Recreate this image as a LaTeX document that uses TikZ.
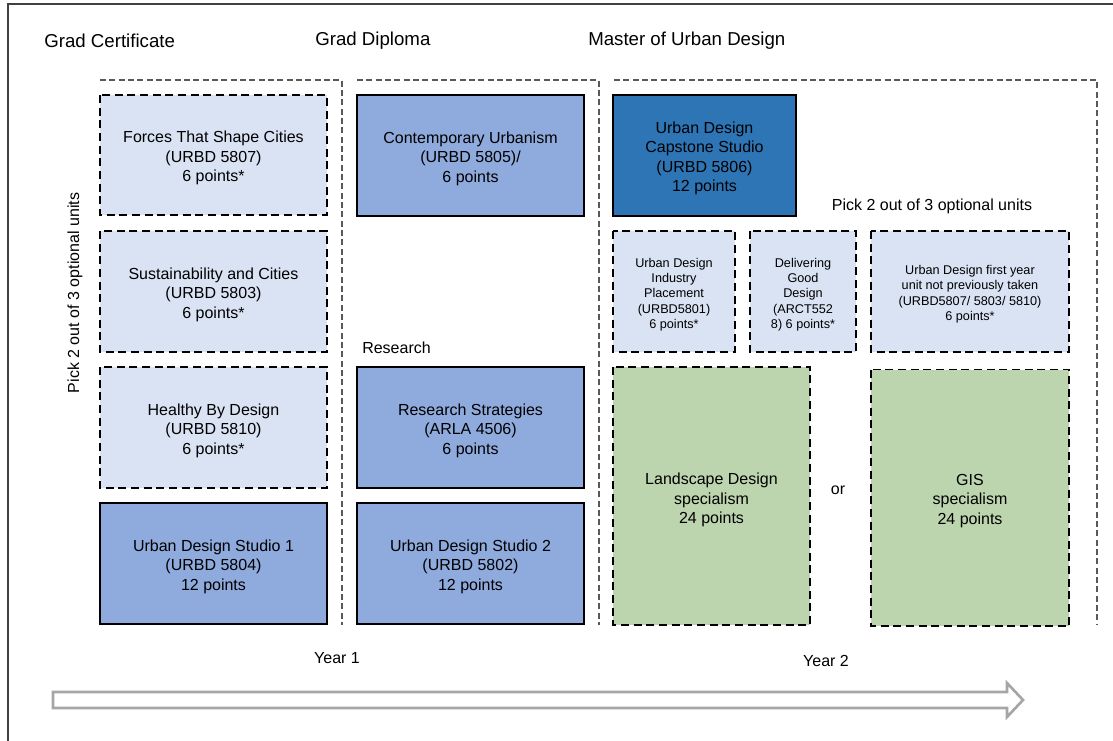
\documentclass[tikz,border=0pt]{standalone}
\usepackage{fontspec}
\setmainfont{Liberation Sans}
\usepackage{tikz}

\definecolor{azulclaro}{HTML}{DAE3F3}
\definecolor{azulmedio}{HTML}{8FAADC}
\definecolor{azulescuro}{HTML}{2E75B6}
\definecolor{verde}{HTML}{BDD5AE}
\definecolor{cinza}{HTML}{595959}
\definecolor{cinzaseta}{HTML}{A6A6A6}
\definecolor{moldura}{HTML}{404040}

\begin{document}
\begin{tikzpicture}[x=0.75pt, y=-0.75pt,
  opcional/.style={draw=black, line width=1.2pt, dash pattern=on 6pt off 3.5pt},
  obrigatoria/.style={draw=black, line width=1.2pt},
  grupo/.style={draw=cinza, line width=0.9pt, dash pattern=on 4.5pt off 2.5pt},
  texto/.style={align=center, font=\fontsize{12}{14.6}\selectfont},
  textocx/.style={texto, yshift=-2.2pt},
  textop/.style={align=center, yshift=-2pt, font=\fontsize{9.5}{11.6}\selectfont},
  titulo/.style={anchor=west, inner sep=0pt, font=\fontsize{14}{17}\selectfont}]

\useasboundingbox (0,0) rectangle (1113,741);

%moldura
\draw[moldura, line width=1.2pt] (1113,4) -- (8,4) -- (8,741);

%titulos
\node[titulo] (cert) at (44,41) {Grad Certificate};
\node[titulo] (dipl) at (315,41) {Grad Diploma};
\node[titulo] (master) at (588,41) {Master of Urban Design};

%grupos
\draw[grupo] (100,80) -- (342,80) -- (342,625);
\draw[grupo] (357,80) -- (599,80) -- (599,625);
\draw[grupo] (614,80) -- (1097,80) -- (1097,625);

%coluna 1
\draw[opcional, fill=azulclaro] (100,95) rectangle (327,215);
\node[textocx] (forces) at (213.5,155) {Forces That Shape Cities\\(URBD 5807)\\6 points*};
\draw[opcional, fill=azulclaro] (100,231) rectangle (327,352);
\node[textocx] (sustain) at (213.5,291.5) {Sustainability and Cities\\(URBD 5803)\\6 points*};
\draw[opcional, fill=azulclaro] (100,367) rectangle (327,488);
\node[textocx] (healthy) at (213.5,427.5) {Healthy By Design\\(URBD 5810)\\6 points*};
\draw[obrigatoria, fill=azulmedio] (100,503) rectangle (327,624);
\node[textocx] (studio1) at (213.5,563.5) {Urban Design Studio 1\\(URBD 5804)\\12 points};
\node[texto, rotate=90] (pick1) at (75,293) {Pick 2 out of 3 optional units};

%coluna 2
\draw[obrigatoria, fill=azulmedio] (357,95) rectangle (584,216);
\node[textocx] (contemp) at (470.5,155.5) {Contemporary Urbanism\\(URBD 5805)/\\6 points};
\node[texto, anchor=west, inner sep=0pt] (research) at (362,348) {Research};
\draw[obrigatoria, fill=azulmedio] (357,367) rectangle (584,488);
\node[textocx] (strategies) at (470.5,427.5) {Research Strategies\\(ARLA 4506)\\6 points};
\draw[obrigatoria, fill=azulmedio] (357,503) rectangle (584,624);
\node[textocx] (studio2) at (470.5,563.5) {Urban Design Studio 2\\(URBD 5802)\\12 points};

%coluna 3
\draw[obrigatoria, fill=azulescuro] (613,95) rectangle (796,216);
\node[textocx] (capstone) at (704.5,155.5) {Urban Design\\Capstone Studio\\(URBD 5806)\\12 points};
\node[texto] (pick2) at (932,206) {Pick 2 out of 3 optional units};
\draw[opcional, fill=azulclaro] (613,231) rectangle (735,352);
\node[textop] (placement) at (674,292) {Urban Design\\Industry\\Placement\\(URBD5801)\\6 points*};
\draw[opcional, fill=azulclaro] (750,231) rectangle (856,352);
\node[textop] (delivering) at (803,292) {Delivering\\Good\\Design\\(ARCT552\\8) 6 points*};
\draw[opcional, fill=azulclaro] (871,231) rectangle (1069,352);
\node[textop] (firstyear) at (970,291.5) {Urban Design first year\\unit not previously taken\\(URBD5807/ 5803/ 5810)\\6 points*};
\draw[opcional, fill=verde] (613,367) rectangle (810,625);
\node[textocx] (landscape) at (711.5,497) {Landscape Design\\specialism\\24 points};
\node[texto] (ou) at (838,490) {or};
\draw[opcional, fill=verde] (871,369.5) rectangle (1069,626);
\node[textocx] (gis) at (970,498) {GIS\\specialism\\24 points};

%anos
\node[texto] (year1) at (337,658) {Year 1};
\node[texto] (year2) at (826,661) {Year 2};

%seta
\draw[cinzaseta, line width=2pt, fill=white] (53,692) -- (1007,692) -- (1007,683) -- (1023,700)
  -- (1007,717) -- (1007,708) -- (53,708) -- cycle;

\end{tikzpicture}
\end{document}
